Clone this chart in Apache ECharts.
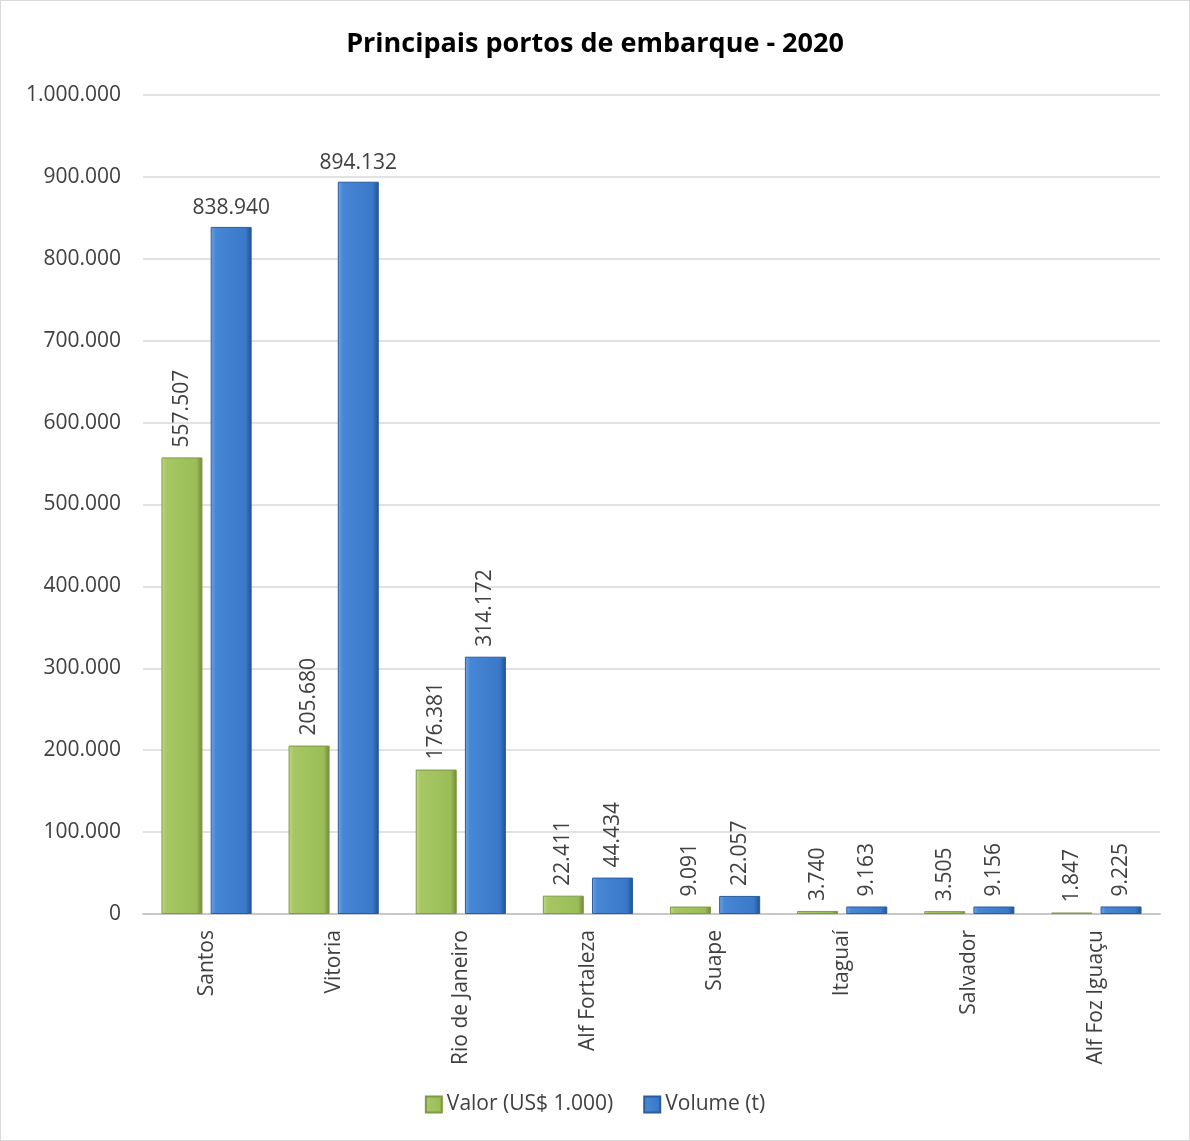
<!DOCTYPE html>
<html>
<head>
<meta charset="utf-8">
<script src="https://cdn.jsdelivr.net/npm/echarts@6/dist/echarts.min.js"></script>
<style>
  html, body { margin: 0; padding: 0; background: #fff; }
  #main { width: 1190px; height: 1141px; box-sizing: border-box; border: 1px solid #D9D9D9; }
</style>
</head>
<body>
<div id="main"></div>
<script>
// dados
var portos = ['Santos', 'Vitoria', 'Rio de Janeiro', 'Alf Fortaleza', 'Suape', 'Itaguaí', 'Salvador', 'Alf Foz Iguaçu'];
var valor = [557507, 205680, 176381, 22411, 9091, 3740, 3505, 1847];
var volume = [838940, 894132, 314172, 44434, 22057, 9163, 9156, 9225];
var yTicks = [0, 100000, 200000, 300000, 400000, 500000, 600000, 700000, 800000, 900000, 1000000];
// rotulos que o Excel deixou na horizontal (indices na serie volume)
var volumeFlat = [0, 1];

var fonte = '"Open Sans", "Liberation Sans", sans-serif';

function fmt (v) {
  return String(v).replace(/\B(?=(\d{3})+(?!\d))/g, '.');
}

function grad (stops) {
  return new echarts.graphic.LinearGradient(0, 0, 1, 0, stops);
}

var verde = grad([
  {offset: 0, color: '#C0DA88'},
  {offset: 0.12, color: '#A6C763'},
  {offset: 0.85, color: '#9BBD58'},
  {offset: 1, color: '#6E8B36'}
]);
var azul = grad([
  {offset: 0, color: '#72A6E2'},
  {offset: 0.12, color: '#4787D6'},
  {offset: 0.85, color: '#3A78C8'},
  {offset: 1, color: '#22508F'}
]);

var rotLabel = {
  show: true,
  position: 'top',
  rotate: 90,
  align: 'left',
  verticalAlign: 'middle',
  distance: 10,
  color: '#404040',
  fontSize: 21,
  fontFamily: fonte,
  formatter: function (p) { return fmt(p.value); }
};

var dadosValor = valor.map(function (v) { return {value: v}; });
var dadosVolume = volume.map(function (v, i) {
  if (volumeFlat.indexOf(i) >= 0) {
    return {value: v, label: {rotate: 0, align: 'center', verticalAlign: 'bottom', distance: 8}};
  }
  return {value: v};
});

var chart = echarts.init(document.getElementById('main'));
chart.setOption({
  animation: false,
  backgroundColor: '#fff',
  title: {
    text: 'Principais portos de embarque - 2020',
    left: 'center',
    top: 25,
    textStyle: {fontSize: 27, fontWeight: 'bold', color: '#000', fontFamily: fonte}
  },
  legend: {
    bottom: 20,
    left: 'center',
    icon: 'rect',
    itemWidth: 16,
    itemHeight: 16,
    itemGap: 30,
    textStyle: {fontSize: 21, color: '#404040', fontFamily: fonte},
    data: ['Valor (US$ 1.000)', 'Volume (t)']
  },
  grid: {left: 142, right: 29, top: 94, bottom: 226},
  xAxis: {
    type: 'category',
    data: portos,
    axisLine: {lineStyle: {color: '#C8C8C8', width: 2}},
    axisTick: {show: false},
    axisLabel: {rotate: 90, fontSize: 21, color: '#404040', fontFamily: fonte, margin: 16}
  },
  yAxis: {
    type: 'value',
    min: yTicks[0],
    max: yTicks[yTicks.length - 1],
    interval: yTicks[1] - yTicks[0],
    axisLine: {show: false},
    axisTick: {show: false},
    splitLine: {lineStyle: {color: '#D9D9D9', width: 1.5}},
    axisLabel: {fontSize: 21, color: '#404040', fontFamily: fonte, margin: 22, formatter: fmt}
  },
  series: [
    {
      name: 'Valor (US$ 1.000)',
      type: 'bar',
      barWidth: 41,
      barGap: '20%',
      itemStyle: {color: verde, borderColor: '#7F9A45', borderWidth: 1},
      label: rotLabel,
      data: dadosValor
    },
    {
      name: 'Volume (t)',
      type: 'bar',
      barWidth: 41,
      barGap: '20%',
      itemStyle: {color: azul, borderColor: '#2A5C9E', borderWidth: 1},
      label: rotLabel,
      data: dadosVolume
    }
  ]
});
</script>
</body>
</html>
